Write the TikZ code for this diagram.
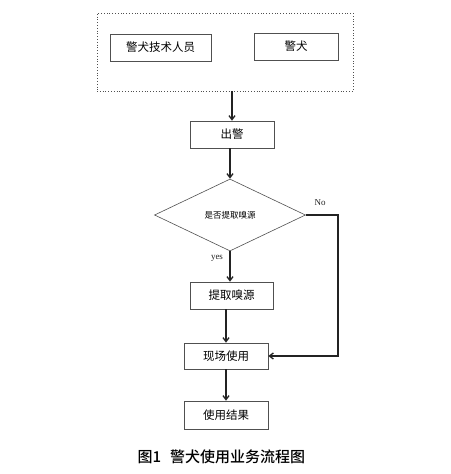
\documentclass[tikz,border=0pt]{standalone}
\usepackage{fontspec}
\setmainfont{Liberation Serif}
\newfontfamily\cjk{Noto Sans CJK SC}
\newfontfamily\cjkbold{Noto Sans CJK SC Medium}
\usetikzlibrary{arrows.meta, shapes.geometric}
\definecolor{xLine}{RGB}{35,35,35}
\definecolor{xFrame}{RGB}{80,80,80}
\tikzset{
  stage/.style={draw=xFrame, semithick, align=center, font=\cjk\fontsize{11.5}{13}\selectfont, inner sep=2pt},
  query/.style={diamond, draw=xFrame, semithick, inner sep=0pt, minimum width=151pt, minimum height=72pt,
                font=\cjk\fontsize{8.5}{10}\selectfont},
  group/.style={draw=xFrame, dotted, thick, minimum width=256pt, minimum height=78pt},
  flow/.style={-{Straight Barb[length=4pt,width=6pt]}, line width=1.3pt, xLine},
  tag/.style={font=\fontsize{9}{10}\selectfont, text=xLine},
}
\begin{document}
\begin{tikzpicture}[x=1pt, y=-1pt]
    \useasboundingbox (0,0) rectangle (450,474);
    \node[group] (team) at (225,52) {};
    \node[stage, minimum width=101pt, minimum height=27pt] (handler) at (160.5,47.5) {警犬技术人员};
    \node[stage, minimum width=84pt, minimum height=27pt] (dog) at (296,46.5) {警犬};
    \node[stage, minimum width=84pt, minimum height=27pt] (dispatch) at (232,134.5) {出警};
    \node[query] (ask) at (230,215) {是否提取嗅源};
    \node[stage, minimum width=83pt, minimum height=27pt] (scent) at (231.5,295.5) {提取嗅源};
    \node[stage, minimum width=84pt, minimum height=26pt] (field) at (226,356) {现场使用};
    \node[stage, minimum width=84pt, minimum height=28pt] (result) at (226,415) {使用结果};
    \coordinate (turn) at (338,215);
    \draw[flow] (dispatch |- team.south) -- (dispatch.north);
    \draw[flow] (dispatch.south -| ask.north) -- (ask.north);
    \draw[flow] (ask.south) -- (ask.south |- scent.north);
    \draw[flow] (field |- scent.south) -- (field.north);
    \draw[flow] (ask.east) -- (turn) |- (field.east);
    \draw[flow] (field.south) -- (result.north);
    \node[tag] (no) at (320,203) {No};
    \node[tag] (yes) at (217,258) {yes};
    \node[font=\cjkbold\fontsize{15}{17}\selectfont, anchor=west] (caption) at (134,457) {图1\hspace{0.6em}警犬使用业务流程图};
  \end{tikzpicture}
\end{document}
